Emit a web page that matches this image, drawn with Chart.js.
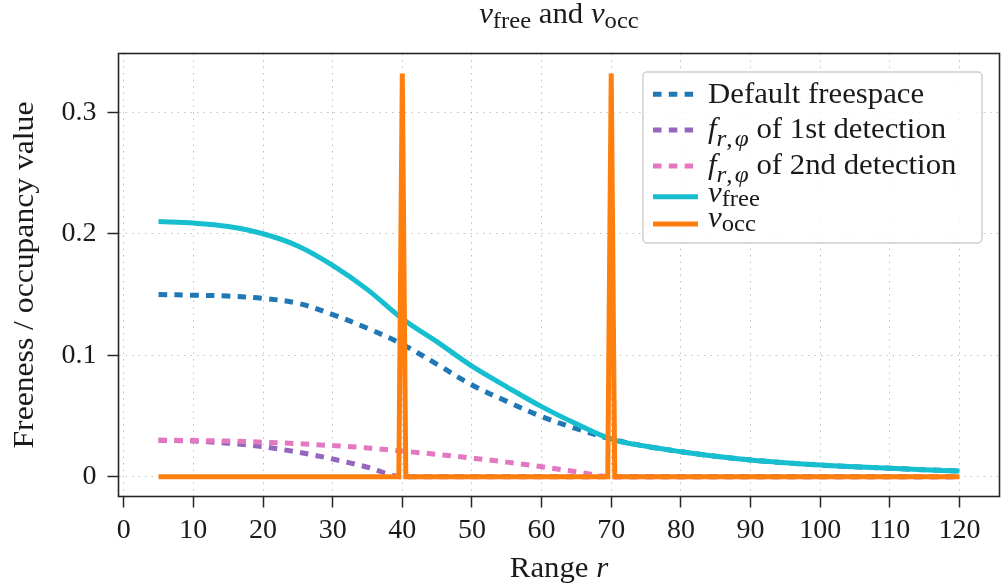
<!DOCTYPE html>
<html>
<head>
<meta charset="utf-8">
<script src="https://cdn.jsdelivr.net/npm/chart.js@4/dist/chart.umd.min.js"></script>
<style>
html,body{margin:0;padding:0;background:#ffffff;}
#wrap{width:1001px;height:586px;}
</style>
</head>
<body>
<div id="wrap"><canvas id="c" width="1001" height="586"></canvas></div>
<script>
// ---------------- data ----------------
const rangeX      = [5,10,15,20,25,30,35,40,45,50,55,60,65,70,75,80,85,90,95,100,105,110,115,120];
const defaultFree = [0.150,0.1494,0.1487,0.1468,0.1428,0.1335,0.1222,0.1090,0.0925,0.0755,0.0620,0.0495,0.0395,0.0310,0.0250,0.0206,0.0168,0.0137,0.0114,0.0096,0.0081,0.0069,0.0057,0.0047];
const vFree       = [0.2100,0.2088,0.2060,0.2000,0.1900,0.1740,0.1540,0.1300,0.1110,0.0910,0.0740,0.0577,0.0435,0.0310,0.0250,0.0206,0.0168,0.0137,0.0114,0.0096,0.0081,0.0069,0.0057,0.0047];
const f1X         = [5,10,15,20,25,30,35,40,120];
const f1Vals      = [0.0300,0.0294,0.0276,0.0247,0.0202,0.0146,0.0078,0,0];
const f2X         = [5,10,15,20,25,30,35,40,45,50,55,60,65,70,120];
const f2Vals      = [0.0300,0.0298,0.0293,0.0284,0.0272,0.0256,0.0237,0.0211,0.0184,0.0153,0.0120,0.0082,0.0040,0,0];
const occX        = [5,39.5,40,40.5,69.5,70,70.5,120];
const occVals     = [0,0,0.332,0,0,0.332,0,0];
const xTicks      = [0,10,20,30,40,50,60,70,80,90,100,110,120];
const xTickLabels = ['0','10','20','30','40','50','60','70','80','90','100','110','120'];
const yTicks      = [0,0.1,0.2,0.3];
const yTickLabels = ['0','0.1','0.2','0.3'];
const seriesNames = ['Default freespace','f_{r,φ} of 1st detection','f_{r,φ} of 2nd detection','v_free','v_occ'];
const titleText   = 'v_free and v_occ';
const xTitleText  = 'Range r';
const yTitleText  = 'Freeness / occupancy value';

// ---------------- helpers ----------------
const pts = (xs, ys) => xs.map((x, i) => ({x: x, y: ys[i]}));
const FAM = '"Liberation Serif", "Times New Roman", serif';
const DASH = [8.5, 7.3];
const LW = 5;

// rich-text segments for math-like labels
const segsDefault = [{t:'Default freespace'}];
const segsF = (ord) => [{t:'f',it:1},{t:'r',it:1,sub:1},{t:',\u200A',sub:1},{t:'φ',it:1,sub:1},{t:' of '+ord+' detection'}];
const segsV = (s) => [{t:'v',it:1},{t:s,sub:1}];
const legendSegs = [segsDefault, segsF('1st'), segsF('2nd'), segsV('free'), segsV('occ')];
const legendSub = [0.78, 0.82, 0.82, 0.8, 0.8];
const legendDrop = [4, 8.5, 8.5, 4, 4.5];
const titleSegs = [{t:'v',it:1},{t:'free',sub:1},{t:' and '},{t:'v',it:1},{t:'occ',sub:1}];
const xTitleSegs = [{t:'Range '},{t:'r',it:1}];
const yTitleSegs = [{t:yTitleText}];

function segFont(s, size){ return (s.it ? 'italic ' : '') + size.toFixed(2) + 'px ' + FAM; }
function segWidth(ctx, segs, size, subScale){
  let w = 0;
  for (const s of segs){ ctx.font = segFont(s, s.sub ? size*subScale : size); w += ctx.measureText(s.t).width; }
  return w;
}
function drawSegs(ctx, segs, x, y, o){
  const size = o.size, subScale = o.subScale || 0.75, stretch = o.stretch || 1.1, drop = o.drop || size*0.17;
  const w = segWidth(ctx, segs, size, subScale) * stretch;
  let sx = x;
  if (o.align === 'center') sx = x - w/2;
  ctx.save();
  ctx.translate(sx, y);
  ctx.scale(stretch, 1);
  ctx.fillStyle = o.color || '#1a1a1a';
  ctx.textBaseline = 'alphabetic';
  ctx.textAlign = 'left';
  let cx = 0;
  for (const s of segs){
    const sz = s.sub ? size*subScale : size;
    ctx.font = segFont(s, sz);
    ctx.fillText(s.t, cx, s.sub ? drop : 0);
    cx += ctx.measureText(s.t).width;
  }
  ctx.restore();
}

const decor = {
  id: 'decor',
  afterDatasetsDraw(chart){
    const ctx = chart.ctx, a = chart.chartArea;
    // frame
    ctx.save();
    ctx.strokeStyle = '#262626';
    ctx.lineWidth = 1.6;
    ctx.strokeRect(a.left, a.top, a.right - a.left, a.bottom - a.top);
    ctx.restore();
    // legend
    const bx = 643, by = 72, bw = 339, bh = 171, r = 4;
    ctx.save();
    ctx.beginPath();
    ctx.moveTo(bx + r, by);
    ctx.arcTo(bx + bw, by, bx + bw, by + bh, r);
    ctx.arcTo(bx + bw, by + bh, bx, by + bh, r);
    ctx.arcTo(bx, by + bh, bx, by, r);
    ctx.arcTo(bx, by, bx + bw, by, r);
    ctx.closePath();
    ctx.fillStyle = 'rgba(255,255,255,0.85)';
    ctx.fill();
    ctx.strokeStyle = '#cfcfcf';
    ctx.lineWidth = 1.5;
    ctx.stroke();
    ctx.restore();
    const lineY = [94.3, 130, 166, 196.7, 224];
    const textY = [102.7, 137.5, 173.5, 201.5, 226.8];
    chart.data.datasets.forEach((ds, i) => {
      ctx.save();
      ctx.strokeStyle = ds.borderColor;
      ctx.lineWidth = ds.borderWidth;
      ctx.setLineDash(ds.borderDash || []);
      ctx.lineCap = 'butt';
      ctx.beginPath();
      ctx.moveTo(653, lineY[i]);
      ctx.lineTo(698, lineY[i]);
      ctx.stroke();
      ctx.restore();
      drawSegs(ctx, legendSegs[i], 708, textY[i], {size: 28.5, subScale: legendSub[i], stretch: 1.08, drop: legendDrop[i]});
    });
    // title
    drawSegs(ctx, titleSegs, (a.left + a.right)/2, 23.3, {size: 28.5, subScale: 0.8, stretch: 1.08, drop: 4.5, align: 'center'});
    // x title
    drawSegs(ctx, xTitleSegs, (a.left + a.right)/2, 577, {size: 28.5, stretch: 1.08, align: 'center'});
    // y title
    ctx.save();
    ctx.translate(33.3, (a.top + a.bottom)/2);
    ctx.rotate(-Math.PI/2);
    drawSegs(ctx, yTitleSegs, 0, 0, {size: 28.5, stretch: 1.11, align: 'center'});
    ctx.restore();
  }
};

const baseLine = {fill: false, pointRadius: 0, pointHoverRadius: 0, borderWidth: LW, cubicInterpolationMode: 'default', tension: 0.35};

new Chart(document.getElementById('c'), {
  type: 'line',
  data: {
    datasets: [
      Object.assign({}, baseLine, {label: seriesNames[0], data: pts(rangeX, defaultFree), borderColor: '#1f77b4', borderDash: DASH, order: 5}),
      Object.assign({}, baseLine, {label: seriesNames[1], data: pts(f1X, f1Vals), borderColor: '#9467bd', borderDash: DASH, cubicInterpolationMode: 'monotone', order: 4}),
      Object.assign({}, baseLine, {label: seriesNames[2], data: pts(f2X, f2Vals), borderColor: '#e377c2', borderDash: DASH, cubicInterpolationMode: 'monotone', order: 3}),
      Object.assign({}, baseLine, {label: seriesNames[3], data: pts(rangeX, vFree), borderColor: '#17becf', order: 2}),
      Object.assign({}, baseLine, {label: seriesNames[4], data: pts(occX, occVals), borderColor: '#ff7f0e', tension: 0, order: 1})
    ]
  },
  options: {
    responsive: false,
    animation: false,
    devicePixelRatio: 1,
    layout: {padding: {top: 53.5, right: 1.5, left: 0, bottom: 0}},
    plugins: {legend: {display: false}, tooltip: {enabled: false}, title: {display: false}},
    scales: {
      x: {
        type: 'linear', min: -0.75, max: 125.75,
        afterBuildTicks: s => { s.ticks = xTicks.map(v => ({value: v})); },
        afterFit: s => { s.height = 89.5; },
        ticks: {
          callback: (v) => xTickLabels[xTicks.indexOf(v)],
          font: {family: FAM, size: 28}, color: '#1a1a1a', padding: 6, maxRotation: 0, autoSkip: false
        },
        grid: {color: '#c4c4c4', lineWidth: 1, drawTicks: true, tickLength: 11, tickColor: '#262626', tickWidth: 1.5, tickBorderDash: []},
        border: {display: false, dash: [1.6, 4.9]}
      },
      y: {
        type: 'linear', min: -0.0163, max: 0.3484,
        afterBuildTicks: s => { s.ticks = yTicks.map(v => ({value: v})); },
        afterFit: s => { s.width = 118.5; },
        ticks: {
          callback: (v) => yTickLabels[yTicks.indexOf(v)],
          font: {family: FAM, size: 28}, color: '#1a1a1a', padding: 11, autoSkip: false
        },
        grid: {color: '#c4c4c4', lineWidth: 1, drawTicks: true, tickLength: 11, tickColor: '#262626', tickWidth: 1.5, tickBorderDash: []},
        border: {display: false, dash: [1.6, 4.9]}
      }
    }
  },
  plugins: [decor]
});
</script>
</body>
</html>
